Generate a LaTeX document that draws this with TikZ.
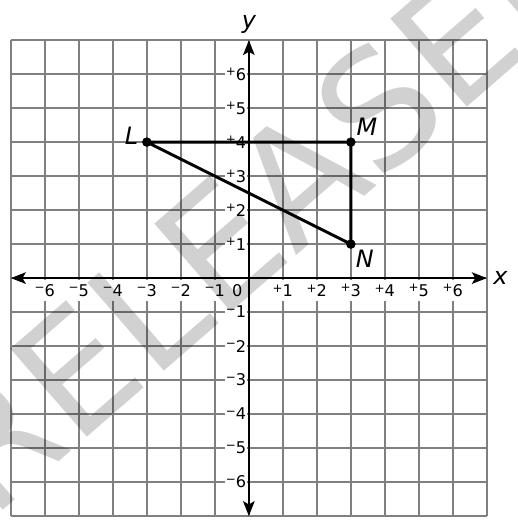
\documentclass[tikz,border=0pt]{standalone}
\usepackage{fontspec}
\setmainfont{DejaVu Sans}
\usetikzlibrary{arrows.meta}
\definecolor{gridgray}{HTML}{808080}
\newcommand{\tkpos}[1]{\raisebox{0.3em}{\fontsize{10}{10}\selectfont +}#1}
\newcommand{\tkneg}[1]{\raisebox{0.3em}{\fontsize{10}{10}\selectfont −}#1}

\begin{document}
\begin{tikzpicture}[x=1cm,y=1cm,
 gridline/.style={gridgray,line width=1.5pt},
 axis/.style={line width=1.6pt,{Stealth[length=4.4mm,width=3.4mm,inset=1mm]}-{Stealth[length=4.4mm,width=3.4mm,inset=1mm]}},
 ticklab/.style={fill=white,inner sep=1pt,minimum height=0.6cm,font=\fontsize{13.5}{15}\selectfont},
 ptlab/.style={font=\fontsize{20}{24}\selectfont\itshape},
 side/.style={line width=2.5pt,line cap=round,line join=round},
 vertex/.style={circle,fill=black,inner sep=0pt,minimum size=2.8mm},
 stamp/.style={text=black,text opacity=0.18,font=\fontsize{134}{134}\selectfont,inner sep=0pt}]
\useasboundingbox (-7.32,-7.38) rectangle (7.91,8.18);
\draw[gridline] (-7,-7) grid (7,7);
% tick labels on both axes
\foreach \k in {1,...,6}{
  \node[ticklab] (xp\k) at (\k,-0.37) {\tkpos{\k}};
  \node[ticklab] (xn\k) at (-\k,-0.37) {\tkneg{\k}};
  \node[ticklab,anchor=east] (yp\k) at (-0.04,\k) {\tkpos{\k}};
  \node[ticklab,anchor=east] (yn\k) at (-0.04,-\k) {\tkneg{\k}};
}
\node[ticklab] (zero) at (-0.34,-0.37) {0};
% axes
\coordinate (xl) at (-7,0);
\coordinate (xr) at (7,0);
\coordinate (yb) at (0,-7);
\coordinate (yt) at (0,7);
\draw[axis] (xl) -- (xr);
\draw[axis] (yb) -- (yt);
\node[ptlab] (xlab) at (7.4,0) {x};
\node[ptlab] (ylab) at (0,7.47) {y};
% triangle LMN
\node[vertex] (L) at (-3,4) {};
\node[vertex] (M) at (3,4) {};
\node[vertex] (N) at (3,1) {};
\draw[side] (L.center) -- (M.center) -- (N.center) -- cycle;
\node[ptlab] (Llab) at (-3.45,4.2) {L};
\node[ptlab] (Mlab) at (3.47,4.44) {M};
\node[ptlab] (Nlab) at (3.41,0.56) {N};
% watermark over everything
\node[stamp,rotate=41] (mark) at (0.62,2.25) {RELEASED};
\end{tikzpicture}
\end{document}
